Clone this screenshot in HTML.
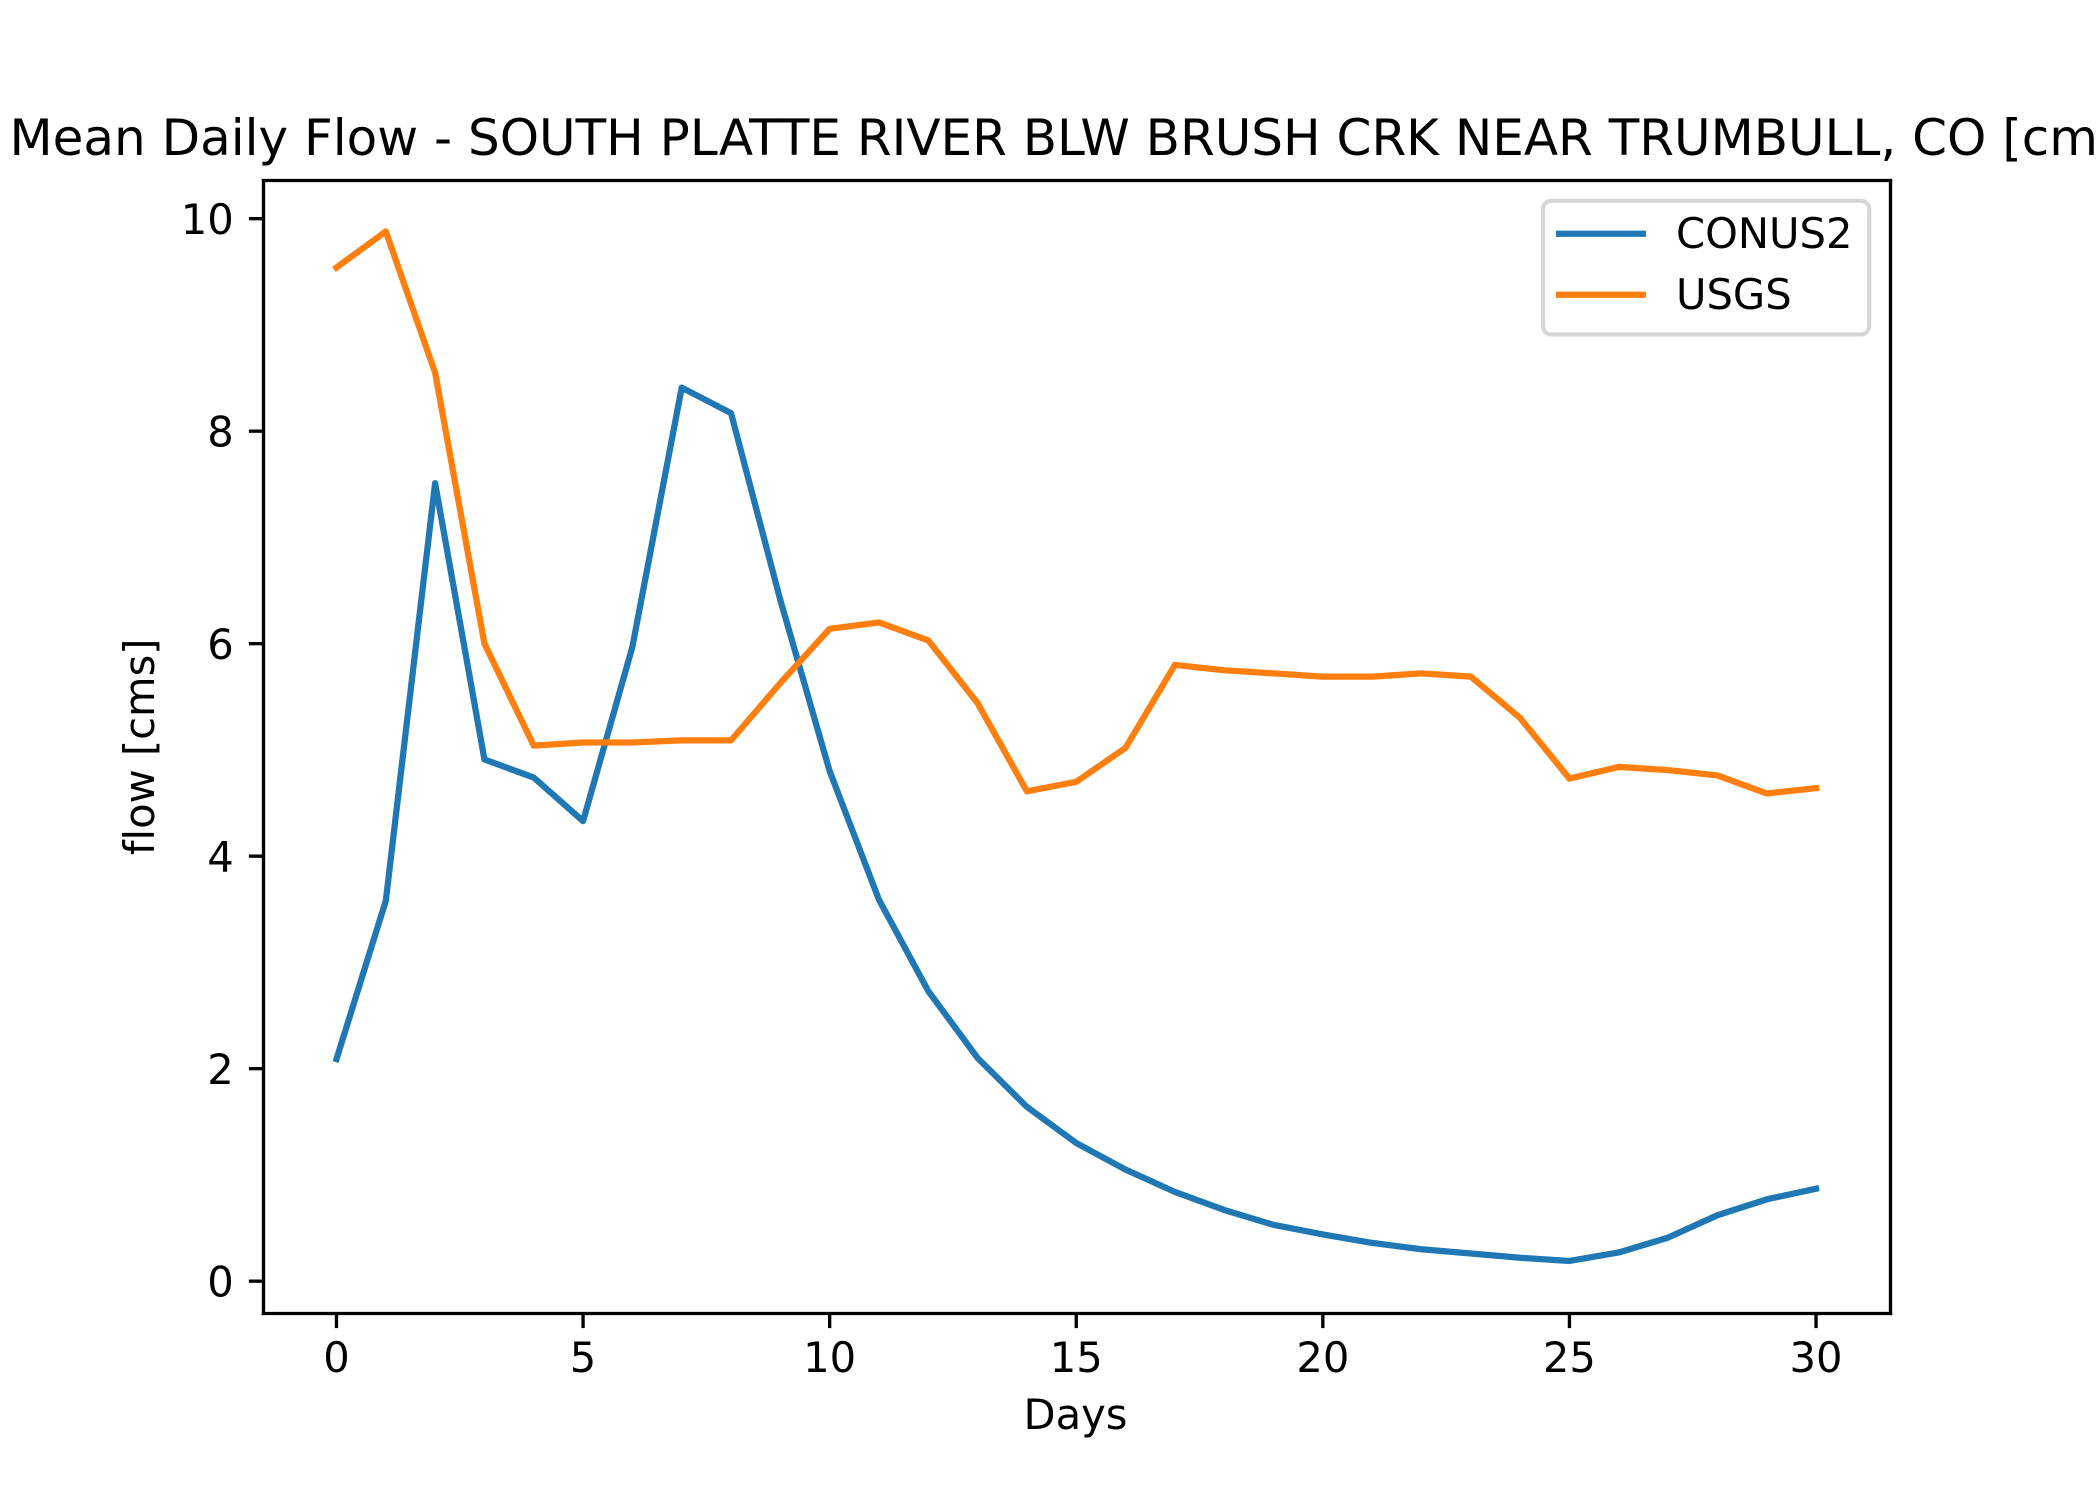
<!DOCTYPE html>
<html lang="en">
<head>
<meta charset="utf-8">
<title>Mean Daily Flow</title>
<style>
html,body{margin:0;padding:0;background:#fff;width:2100px;height:1500px;overflow:hidden}
svg{display:block}
text{font-family:"DejaVu Sans","Liberation Sans",sans-serif;fill:#000;font-variant-ligatures:none;font-feature-settings:"liga" 0,"clig" 0}
</style>
</head>
<body>
<svg id="chart" xmlns="http://www.w3.org/2000/svg" width="2100" height="1500" viewBox="0 0 2100 1500">
  <rect x="0" y="0" width="2100" height="1500" fill="#fff"/>
  <text x="1076.5" y="155" font-size="50" text-anchor="middle">Mean Daily Flow - SOUTH PLATTE RIVER BLW BRUSH CRK NEAR TRUMBULL, CO [cms]</text>
  <g id="series"></g>
  <g id="ticks"></g>
  <g stroke="#000" stroke-width="3.33" fill="none" stroke-linecap="square">
    <line x1="263.5" y1="180.5" x2="263.5" y2="1313.5"/>
    <line x1="1890.5" y1="180.5" x2="1890.5" y2="1313.5"/>
    <line x1="263.5" y1="180.5" x2="1890.5" y2="180.5"/>
    <line x1="263.5" y1="1313.5" x2="1890.5" y2="1313.5"/>
  </g>
  <text x="1075.5" y="1429" font-size="41.67" text-anchor="middle">Days</text>
  <text transform="translate(154 746.8) rotate(-90)" x="0" y="0" font-size="41.67" text-anchor="middle">flow [cms]</text>
  <g>
    <rect x="1543" y="200.8" width="326.2" height="133.6" rx="8.3" ry="8.3" fill="#fff" fill-opacity="0.8" stroke="#ccc" stroke-opacity="0.8" stroke-width="4.17"/>
    <line x1="1556" y1="233.7" x2="1646" y2="233.7" stroke="#1f77b4" stroke-width="6.25"/>
    <text x="1676" y="248" font-size="41.67">CONUS2</text>
    <line x1="1556" y1="294.8" x2="1646" y2="294.8" stroke="#ff7f0e" stroke-width="6.25"/>
    <text x="1676" y="309" font-size="41.67">USGS</text>
  </g>
</svg>
<script>
const conus2Values = [2.09,3.58,7.51,4.91,4.74,4.33,5.97,8.41,8.17,6.41,4.80,3.59,2.73,2.10,1.64,1.30,1.05,0.84,0.67,0.53,0.44,0.36,0.30,0.26,0.22,0.19,0.27,0.41,0.62,0.77,0.87];
const usgsValues = [9.54,9.88,8.55,6.00,5.04,5.07,5.07,5.09,5.09,5.63,6.14,6.20,6.03,5.44,4.61,4.70,5.02,5.80,5.75,5.72,5.69,5.69,5.72,5.69,5.30,4.73,4.84,4.81,4.76,4.59,4.64];
const xTickValues = [0,5,10,15,20,25,30];
const yTickValues = [0,2,4,6,8,10];

const plotLeft = 262.5, plotRight = 1890, plotTop = 180, plotBottom = 1312.5;
const xMin = -1.5, xMax = 31.5, yMin = -0.295, yMax = 10.364;
function xScale(v){ return plotLeft + (v - xMin) / (xMax - xMin) * (plotRight - plotLeft); }
function yScale(v){ return plotBottom - (v - yMin) / (yMax - yMin) * (plotBottom - plotTop); }

const NS = 'http://www.w3.org/2000/svg';
const seriesLayer = document.getElementById('series');
const ticksLayer = document.getElementById('ticks');

function pointsOf(values){
  return values.map(function(v, i){ return xScale(i).toFixed(2) + ',' + yScale(v).toFixed(2); }).join(' ');
}

const conusLine = document.createElementNS(NS, 'polyline');


conusLine.setAttribute('points', pointsOf(conus2Values));
conusLine.setAttribute('fill', 'none');
conusLine.setAttribute('stroke', '#1f77b4');
conusLine.setAttribute('stroke-width', '6.25');
conusLine.setAttribute('stroke-linecap', 'square');
conusLine.setAttribute('stroke-linejoin', 'round');
seriesLayer.appendChild(conusLine);

const usgsLine = document.createElementNS(NS, 'polyline');


usgsLine.setAttribute('points', pointsOf(usgsValues));
usgsLine.setAttribute('fill', 'none');
usgsLine.setAttribute('stroke', '#ff7f0e');
usgsLine.setAttribute('stroke-width', '6.25');
usgsLine.setAttribute('stroke-linecap', 'square');
usgsLine.setAttribute('stroke-linejoin', 'round');
seriesLayer.appendChild(usgsLine);

xTickValues.forEach(function(v){
  const x = xScale(v);
  const mark = document.createElementNS(NS, 'line');
  
  
  mark.setAttribute('x1', x);
  mark.setAttribute('x2', x);
  mark.setAttribute('y1', plotBottom + 1);
  mark.setAttribute('y2', plotBottom + 15.6);
  mark.setAttribute('stroke', '#000');
  mark.setAttribute('stroke-width', '3.33');
  ticksLayer.appendChild(mark);
  const label = document.createElementNS(NS, 'text');
  
  
  label.setAttribute('x', x);
  label.setAttribute('y', plotBottom + 59.6);
  label.setAttribute('font-size', '41.67');
  label.setAttribute('text-anchor', 'middle');
  label.textContent = String(v);
  ticksLayer.appendChild(label);
});

yTickValues.forEach(function(v){
  const y = yScale(v);
  const mark = document.createElementNS(NS, 'line');
  
  
  mark.setAttribute('x1', plotLeft - 13.6);
  mark.setAttribute('x2', plotLeft + 1);
  mark.setAttribute('y1', y);
  mark.setAttribute('y2', y);
  mark.setAttribute('stroke', '#000');
  mark.setAttribute('stroke-width', '3.33');
  ticksLayer.appendChild(mark);
  const label = document.createElementNS(NS, 'text');
  
  
  label.setAttribute('x', plotLeft - 28.7);
  label.setAttribute('y', y + 15.2);
  label.setAttribute('font-size', '41.67');
  label.setAttribute('text-anchor', 'end');
  label.textContent = String(v);
  ticksLayer.appendChild(label);
});
</script>
</body>
</html>
